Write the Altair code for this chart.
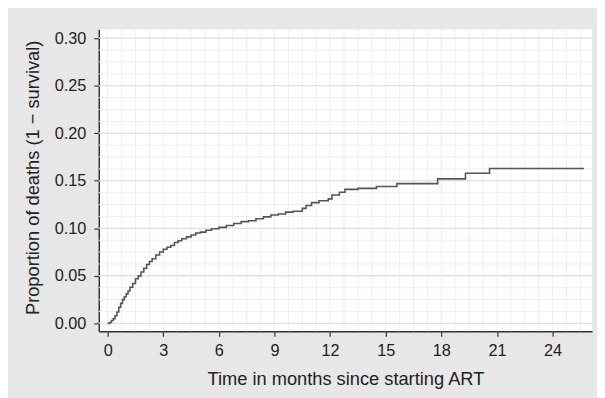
import altair as alt
import pandas as pd

# Cumulative proportion of deaths (1 - survival)
months = [0.0, 0.1, 0.2, 0.3, 0.4, 0.5, 0.6, 0.7, 0.8, 0.9, 1.0, 1.1, 1.2, 1.35,
          1.5, 1.65, 1.8, 1.95, 2.1, 2.25, 2.4, 2.6, 2.8, 3.0, 3.2, 3.4, 3.6,
          3.8, 4.0, 4.25, 4.5, 4.75, 5.0, 5.3, 5.6, 6.0, 6.4, 6.8, 7.2, 7.6,
          8.0, 8.4, 8.8, 9.2, 9.6, 10.0, 10.5, 10.7, 11.0, 11.4, 11.9, 12.1,
          12.5, 12.8, 13.5, 14.5, 15.6, 17.8, 19.3, 20.6, 25.7]
deaths = [0.000, 0.001, 0.003, 0.005, 0.008, 0.012, 0.017, 0.021, 0.025, 0.028,
          0.031, 0.034, 0.038, 0.042, 0.047, 0.050, 0.054, 0.058, 0.062, 0.065,
          0.068, 0.072, 0.075, 0.078, 0.080, 0.082, 0.085, 0.087, 0.089, 0.091,
          0.093, 0.095, 0.096, 0.098, 0.0995, 0.101, 0.103, 0.105, 0.107, 0.108,
          0.110, 0.112, 0.114, 0.115, 0.117, 0.118, 0.121, 0.124, 0.127, 0.129,
          0.131, 0.135, 0.138, 0.141, 0.142, 0.144, 0.147, 0.152, 0.158, 0.163,
          0.163]

x_ticks = [0, 3, 6, 9, 12, 15, 18, 21, 24]
y_ticks = [0.00, 0.05, 0.10, 0.15, 0.20, 0.25, 0.30]

curve = pd.DataFrame({"v": months, "w": deaths})
vminor = pd.DataFrame({"v": [i * 0.75 for i in range(0, 35)]})
hminor = pd.DataFrame({"w": [i * 0.0125 for i in range(0, 25)]})
hmajor = pd.DataFrame({"w": y_ticks})

FONT = "Liberation Sans"
xscale = alt.Scale(domain=[-0.48, 26.13], nice=False, zero=False)
yscale = alt.Scale(domain=[-0.0083, 0.3093], nice=False, zero=False)

xaxis = alt.Axis(
    values=x_ticks, format="d", grid=False, tickSize=5, tickColor="#333",
    domainColor="#333", domainWidth=1.5, tickWidth=1.2, labelFontSize=16.5,
    labelColor="#222", labelFont=FONT, labelPadding=7, titleFont=FONT,
    titleFontSize=18.5, titleFontWeight="normal", titleColor="#222",
    titleX=250, titleY=48, titleBaseline="middle", titleAlign="center")
yaxis = alt.Axis(
    values=y_ticks, format=".2f", grid=False, tickSize=5, tickColor="#333",
    domainColor="#333", domainWidth=1.5, tickWidth=1.2, labelFontSize=16.5,
    labelColor="#222", labelFont=FONT, labelPadding=8, titleFont=FONT,
    titleFontSize=18.5, titleFontWeight="normal", titleColor="#222",
    titleX=-67, titleY=150, titleAngle=270, titleBaseline="middle",
    titleAlign="center")

XT = "Time in months since starting ART"
YT = "Proportion of deaths (1 \u2212 survival)"

v_grid = alt.Chart(vminor).mark_rule(color="#efefef", strokeWidth=1).encode(
    x=alt.X("v:Q", scale=xscale, axis=xaxis, title=XT)
)
h_grid = alt.Chart(hminor).mark_rule(color="#efefef", strokeWidth=1).encode(
    y=alt.Y("w:Q", scale=yscale, axis=yaxis, title=YT)
)
h_major = alt.Chart(hmajor).mark_rule(color="#dcdcdc", strokeWidth=1).encode(
    y=alt.Y("w:Q", scale=yscale, axis=yaxis, title=YT)
)

line = alt.Chart(curve).mark_line(
    interpolate="step-after", color="#555555", strokeWidth=1.6
).encode(
    x=alt.X("v:Q", scale=xscale, axis=xaxis, title=XT),
    y=alt.Y("w:Q", scale=yscale, axis=yaxis, title=YT),
)

chart = alt.layer(v_grid, h_grid, h_major, line).properties(
    width=500, height=306,
    autosize=alt.AutoSizeParams(type="none"),
    padding={"left": 92, "top": 19, "right": 5, "bottom": 65},
).configure(background="#e7e7e7").configure_view(stroke=None, fill="white")

chart.save("out.html", embed_options={"renderer": "svg", "actions": False})
